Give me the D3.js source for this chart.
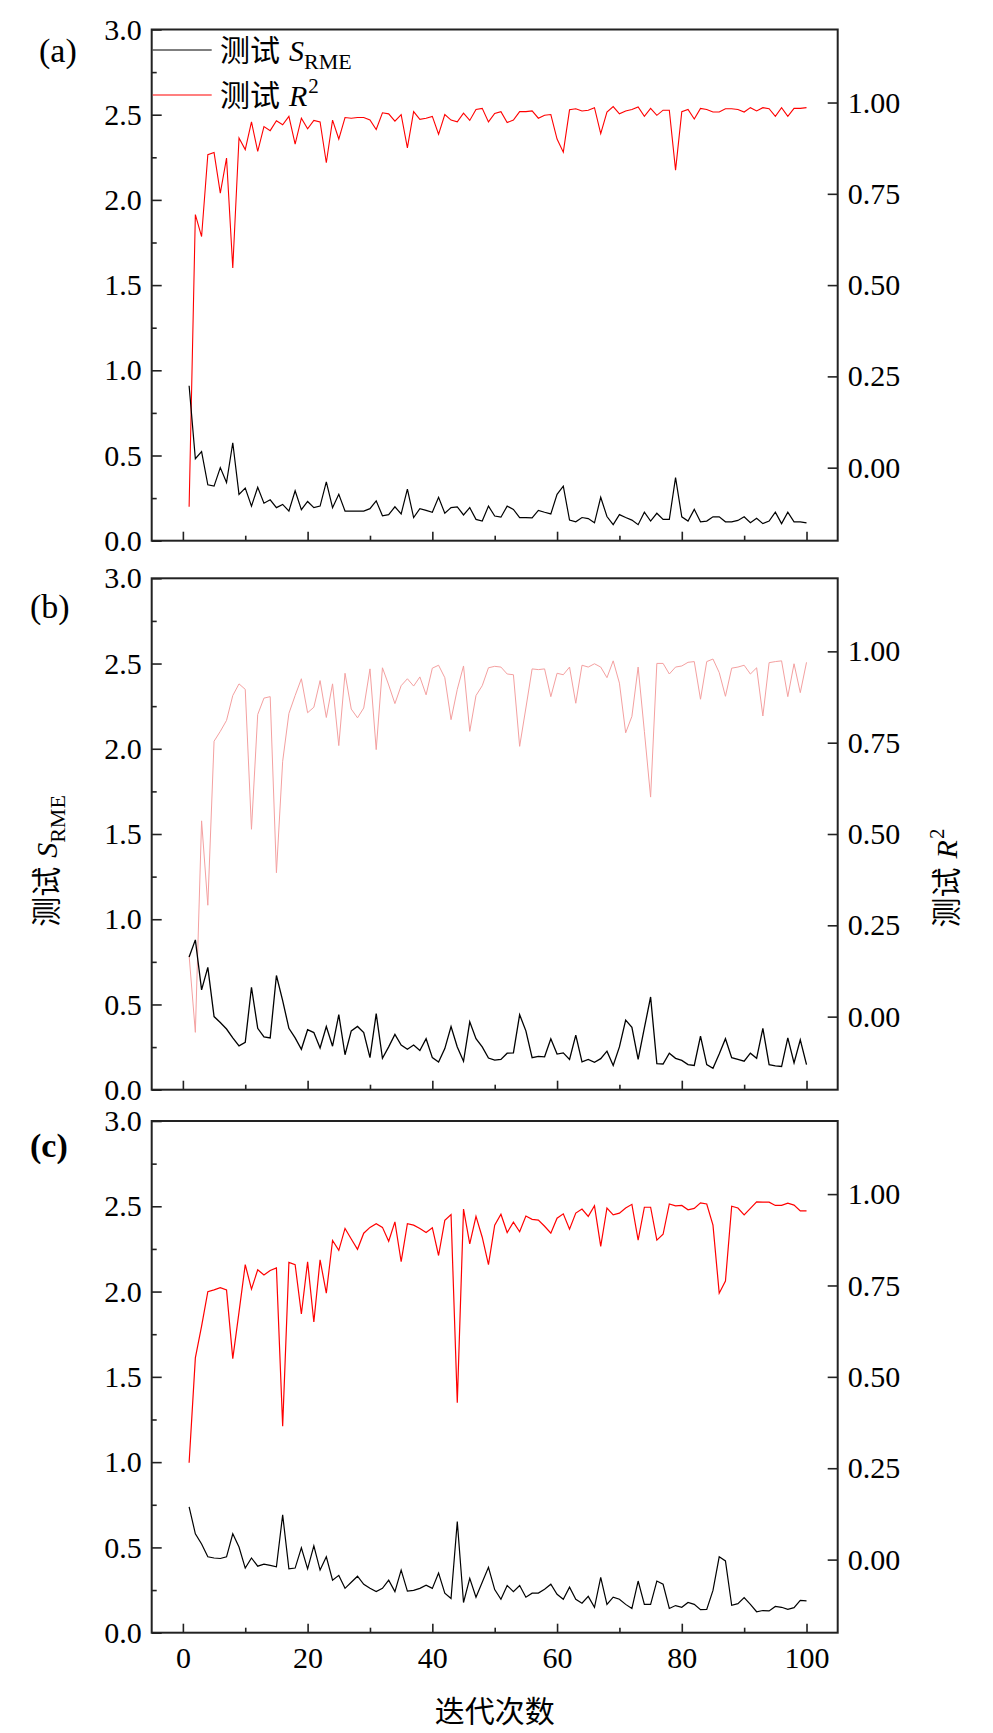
<!DOCTYPE html>
<html><head><meta charset="utf-8">
<script src="https://cdn.jsdelivr.net/npm/d3@7"></script>
<style>body{margin:0;background:#fff}</style>
</head><body>
<svg id="chart" width="993" height="1733"></svg>
<script>
// ---- data ----
const panelLabels = ["(a)", "(b)", "(c)"];
const rmseA = [0.909,0.481,0.523,0.328,0.320,0.429,0.341,0.575,0.272,0.309,
0.203,0.314,0.220,0.240,0.194,0.213,0.174,0.293,0.182,0.230,
0.194,0.203,0.345,0.194,0.272,0.174,0.174,0.174,0.174,0.188,
0.234,0.146,0.153,0.199,0.157,0.303,0.136,0.188,0.178,0.167,
0.255,0.161,0.194,0.199,0.151,0.194,0.125,0.115,0.203,0.145,
0.138,0.203,0.184,0.136,0.136,0.134,0.178,0.167,0.157,0.272,
0.320,0.121,0.111,0.136,0.130,0.105,0.255,0.142,0.094,0.153,
0.136,0.121,0.094,0.167,0.115,0.161,0.125,0.125,0.370,0.140,
0.115,0.184,0.111,0.115,0.140,0.140,0.111,0.111,0.119,0.140,
0.105,0.132,0.100,0.115,0.167,0.100,0.167,0.111,0.111,0.105];
const r2A = [-0.107,0.693,0.633,0.857,0.863,0.752,0.848,0.547,0.903,0.871,
0.947,0.866,0.934,0.923,0.950,0.939,0.962,0.886,0.957,0.928,
0.951,0.947,0.835,0.952,0.900,0.959,0.957,0.959,0.959,0.952,
0.926,0.972,0.969,0.949,0.967,0.876,0.975,0.954,0.957,0.962,
0.913,0.967,0.952,0.947,0.971,0.951,0.981,0.984,0.947,0.970,
0.975,0.945,0.952,0.975,0.975,0.977,0.957,0.965,0.967,0.900,
0.864,0.980,0.983,0.977,0.979,0.986,0.915,0.974,0.989,0.969,
0.977,0.981,0.988,0.962,0.984,0.965,0.979,0.979,0.815,0.975,
0.981,0.955,0.984,0.981,0.974,0.974,0.983,0.983,0.981,0.974,
0.986,0.977,0.986,0.983,0.962,0.986,0.962,0.984,0.984,0.986];
const rmseB = [0.779,0.879,0.586,0.718,0.429,0.394,0.356,0.304,0.257,0.278,
0.601,0.360,0.310,0.304,0.670,0.523,0.360,0.304,0.237,0.352,
0.335,0.245,0.371,0.255,0.440,0.205,0.345,0.371,0.335,0.188,
0.446,0.184,0.251,0.324,0.262,0.237,0.262,0.230,0.299,0.188,
0.163,0.241,0.371,0.251,0.167,0.398,0.299,0.251,0.186,0.173,
0.178,0.214,0.216,0.440,0.345,0.188,0.195,0.193,0.299,0.209,
0.216,0.178,0.320,0.163,0.178,0.161,0.182,0.226,0.142,0.251,
0.408,0.366,0.178,0.362,0.544,0.153,0.151,0.214,0.184,0.172,
0.147,0.142,0.314,0.147,0.126,0.209,0.299,0.188,0.178,0.167,
0.214,0.184,0.360,0.147,0.140,0.136,0.304,0.157,0.293,0.147];
const r2B = [0.167,-0.043,0.536,0.305,0.754,0.781,0.811,0.879,0.911,0.896,
0.513,0.827,0.872,0.876,0.394,0.699,0.830,0.879,0.925,0.832,
0.847,0.920,0.819,0.911,0.742,0.940,0.842,0.818,0.845,0.952,
0.731,0.955,0.908,0.857,0.906,0.925,0.905,0.930,0.881,0.954,
0.962,0.928,0.813,0.896,0.960,0.781,0.879,0.906,0.955,0.959,
0.957,0.938,0.936,0.740,0.845,0.952,0.950,0.952,0.876,0.940,
0.936,0.957,0.858,0.962,0.957,0.966,0.957,0.928,0.974,0.913,
0.777,0.822,0.957,0.781,0.601,0.967,0.967,0.938,0.957,0.960,
0.970,0.972,0.869,0.972,0.979,0.942,0.877,0.954,0.957,0.962,
0.938,0.955,0.823,0.969,0.972,0.974,0.876,0.966,0.887,0.970];
const rmseC = [0.738,0.580,0.520,0.445,0.438,0.435,0.445,0.580,0.502,0.379,
0.438,0.390,0.402,0.395,0.386,0.691,0.374,0.379,0.497,0.374,
0.509,0.367,0.445,0.308,0.336,0.260,0.296,0.331,0.284,0.260,
0.241,0.260,0.308,0.241,0.367,0.244,0.248,0.260,0.279,0.260,
0.350,0.232,0.201,0.651,0.177,0.319,0.208,0.296,0.383,0.253,
0.196,0.277,0.241,0.277,0.208,0.232,0.232,0.255,0.284,0.225,
0.196,0.267,0.196,0.173,0.213,0.149,0.324,0.166,0.208,0.196,
0.166,0.142,0.303,0.166,0.166,0.303,0.284,0.142,0.159,0.149,
0.177,0.166,0.135,0.137,0.248,0.445,0.421,0.161,0.170,0.206,
0.166,0.123,0.130,0.128,0.154,0.149,0.137,0.147,0.189,0.187];
const r2C = [0.265,0.552,0.639,0.733,0.738,0.744,0.738,0.550,0.677,0.807,
0.740,0.793,0.779,0.791,0.798,0.365,0.813,0.807,0.672,0.815,
0.650,0.820,0.729,0.873,0.846,0.906,0.877,0.849,0.893,0.909,
0.919,0.909,0.871,0.924,0.815,0.919,0.915,0.906,0.895,0.908,
0.832,0.928,0.944,0.429,0.959,0.864,0.939,0.882,0.807,0.915,
0.945,0.895,0.923,0.897,0.940,0.931,0.929,0.912,0.893,0.934,
0.946,0.904,0.948,0.959,0.939,0.968,0.857,0.962,0.943,0.948,
0.962,0.972,0.874,0.964,0.964,0.874,0.890,0.973,0.968,0.969,
0.957,0.961,0.976,0.973,0.915,0.729,0.762,0.967,0.962,0.943,
0.961,0.979,0.978,0.978,0.969,0.969,0.975,0.970,0.954,0.954];

const xMajorTicks = [0, 20, 40, 60, 80, 100];
const xMinorTicks = [10, 30, 50, 70, 90];
const leftMajorTicks = [0, 0.5, 1.0, 1.5, 2.0, 2.5, 3.0];
const leftMinorTicks = [0.25, 0.75, 1.25, 1.75, 2.25, 2.75];
const rightTicks = [0, 0.25, 0.5, 0.75, 1.0];
const xTitle = "迭代次数";

// ---- layout ----
const svg = d3.select("#chart");
const serif = "'Liberation Serif','Times New Roman',serif";
const cjk = "'Noto Sans CJK SC',sans-serif";
const W = {left: 151.7, right: 837.7};
const panels = [
  {top: 29.5, bottom: 540.7, rmse: rmseA, r2: r2A, r2Color: "#ff0000", r2W: 1.1, kW: 1.2, label: panelLabels[0], lx: 39, ly: 62, bold: false},
  {top: 578.3, bottom: 1089.7, rmse: rmseB, r2: r2B, r2Color: "#f4a0a0", r2W: 1.0, kW: 1.3, label: panelLabels[1], lx: 30, ly: 618, bold: false},
  {top: 1121, bottom: 1632.7, rmse: rmseC, r2: r2C, r2Color: "#ff0000", r2W: 1.2, kW: 1.2, label: panelLabels[2], lx: 30, ly: 1157, bold: true}
];

const x = d3.scaleLinear().domain([-5, 105]).range([W.left, W.right]);

panels.forEach((p, pi) => {
  const yL = d3.scaleLinear().domain([0, 3]).range([p.bottom, p.top]);
  const yR = d3.scaleLinear().domain([-0.2, 1.2]).range([p.bottom, p.top]);
  const g = svg.append("g");

  const lineL = d3.line().x((d, i) => x(i + 1)).y(d => yL(d));
  const lineR = d3.line().x((d, i) => x(i + 1)).y(d => yR(d));

  g.append("path").datum(p.r2).attr("d", lineR).attr("fill", "none")
    .attr("stroke", p.r2Color).attr("stroke-width", p.r2W).attr("stroke-linejoin", "miter");
  g.append("path").datum(p.rmse).attr("d", lineL).attr("fill", "none")
    .attr("stroke", "#000").attr("stroke-width", p.kW);

  g.append("g").attr("transform", `translate(${W.left},0)`)
    .call(d3.axisLeft(yL).tickValues(leftMajorTicks).tickSize(-10).tickPadding(10).tickFormat(d3.format(".1f")));
  g.append("g").attr("transform", `translate(${W.left},0)`)
    .call(d3.axisLeft(yL).tickValues(leftMinorTicks).tickSize(-5).tickFormat(""));
  g.append("g").attr("transform", `translate(${W.right},0)`)
    .call(d3.axisRight(yR).tickValues(rightTicks).tickSize(-10).tickPadding(10).tickFormat(d3.format(".2f")));
  g.append("g").attr("transform", `translate(0,${p.bottom})`)
    .call(d3.axisBottom(x).tickValues(xMajorTicks).tickSize(-9).tickPadding(14).tickFormat(pi === 2 ? d3.format("d") : ""));
  g.append("g").attr("transform", `translate(0,${p.bottom})`)
    .call(d3.axisBottom(x).tickValues(xMinorTicks).tickSize(-5).tickFormat(""));

  g.selectAll(".domain").remove();
  g.selectAll(".tick line").attr("stroke", "#222").attr("stroke-width", 1.6);
  g.selectAll("text").attr("font-family", serif).attr("font-size", 30).attr("fill", "#000");

  g.append("rect").attr("x", W.left).attr("y", p.top)
    .attr("width", W.right - W.left).attr("height", p.bottom - p.top)
    .attr("fill", "none").attr("stroke", "#222").attr("stroke-width", 2);

  svg.append("text").attr("x", p.lx).attr("y", p.ly)
    .attr("font-family", serif).attr("font-size", 34)
    .attr("font-weight", p.bold ? "bold" : "normal").text(p.label);
});

// legend (panel a)
const leg = svg.append("g");
const legItems = [
  {y: 50, color: "#000", sym: "S", sub: "RME", sup: null},
  {y: 95, color: "#ff0000", sym: "R", sub: null, sup: "2"}
];
legItems.forEach(it => {
  leg.append("line").attr("x1", W.left + 1).attr("x2", 211.7).attr("y1", it.y).attr("y2", it.y)
    .attr("stroke", it.color).attr("stroke-width", 1.2);
  const t = leg.append("text").attr("x", 220).attr("y", it.y + 11).attr("font-size", 30);
  t.append("tspan").attr("font-family", cjk).text("测试");
  t.append("tspan").attr("font-family", serif).attr("font-style", "italic").attr("dx", 9).text(it.sym);
  if (it.sub) t.append("tspan").attr("font-family", serif).attr("font-size", 22).attr("dy", 8).text(it.sub);
  if (it.sup) t.append("tspan").attr("font-family", serif).attr("font-size", 21).attr("dy", -13).attr("dx", 1).text(it.sup);
});

// axis titles
const tL = svg.append("text").attr("transform", "translate(57,861) rotate(-90)")
  .attr("text-anchor", "middle").attr("font-size", 30);
tL.append("tspan").attr("font-family", cjk).text("测试");
tL.append("tspan").attr("font-family", serif).attr("font-style", "italic").attr("dx", 9).text("S");
tL.append("tspan").attr("font-family", serif).attr("font-size", 22).attr("dy", 8).text("RME");

const tR = svg.append("text").attr("transform", "translate(957,878) rotate(-90)")
  .attr("text-anchor", "middle").attr("font-size", 30);
tR.append("tspan").attr("font-family", cjk).text("测试");
tR.append("tspan").attr("font-family", serif).attr("font-style", "italic").attr("dx", 9).text("R");
tR.append("tspan").attr("font-family", serif).attr("font-size", 21).attr("dy", -13).attr("dx", 1).text("2");

svg.append("text").attr("x", (W.left + W.right) / 2).attr("y", 1722)
  .attr("text-anchor", "middle").attr("font-family", cjk).attr("font-size", 30).text(xTitle);
</script>
</body></html>
